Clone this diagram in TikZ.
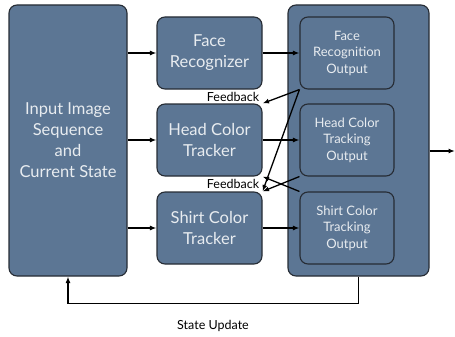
\documentclass[tikz,border=0pt]{standalone}
\usepackage{fontspec}
\setmainfont{Lato}
\usetikzlibrary{positioning}
\usetikzlibrary{arrows.meta}
\definecolor{boxblue}{RGB}{92,118,148}
\definecolor{boxline}{RGB}{38,44,52}
\definecolor{boxtext}{RGB}{232,236,240}

\begin{document}
\begin{tikzpicture}[x=1pt,y=-1pt,
        block/.style={draw=boxline, line width=1.1pt, fill=boxblue, rounded corners=8pt,
            text=boxtext, align=center, inner sep=0pt},
        bigtext/.style={font=\fontsize{16.5}{21}\selectfont},
        smalltext/.style={font=\fontsize{13}{16.5}\selectfont},
        flow/.style={-{Latex[length=6.5pt,width=5pt]}, line width=1.3pt},
        lbl/.style={font=\fontsize{12.5}{14}\selectfont}]

        \useasboundingbox (0,0) rectangle (455,337);

        % input and trackers
        \node[block, bigtext, minimum width=118pt, minimum height=271pt] (input) at (68,140.5)
            {Input Image\\Sequence\\and\\Current State};
        \node[block, bigtext, minimum width=105pt, minimum height=72pt] (face) at (209.5,53) {Face\\Recognizer};
        \node[block, bigtext, minimum width=105pt, minimum height=72pt] (head) at (209.5,140) {Head Color\\Tracker};
        \node[block, bigtext, minimum width=105pt, minimum height=72pt] (shirt) at (209.5,228) {Shirt Color\\Tracker};

        % outputs
        \node[block, minimum width=141pt, minimum height=271pt] (outputs) at (358.5,140.5) {};
        \node[block, smalltext, minimum width=94pt, minimum height=72pt] (faceout) at (347,53) {Face\\Recognition\\Output};
        \node[block, smalltext, minimum width=94pt, minimum height=72pt] (headout) at (347,140) {Head Color\\Tracking\\Output};
        \node[block, smalltext, minimum width=94pt, minimum height=72pt] (shirtout) at (347,228) {Shirt Color\\Tracking\\Output};

        \draw[flow] (input.east |- face.west) -- (face.west);
        \draw[flow] (input.east |- head.west) -- (head.west);
        \draw[flow] (input.east |- shirt.west) -- (shirt.west);

        \draw[flow] (face.east) -- (faceout.west);
        \draw[flow] (head.east) -- (headout.west);
        \draw[flow] (shirt.east) -- (shirtout.west);

        % feedback
        \draw[flow] (faceout.south west) -- (head.north east);
        \draw[flow] (faceout.south west) -- (shirt.north east);
        \draw[flow] (headout.south west) -- (shirt.north east);
        \draw[flow] (shirtout.north west) -- (head.south east);
        \node[lbl] (fb1) at (233,97) {Feedback};
        \node[lbl] (fb2) at (233,184) {Feedback};

        \coordinate (result) at (455,151);
        \draw[flow] (outputs.east |- result) -- (result);

        % state update
        \draw[flow] (outputs.south) -- ++(0,27) -| (input.south);
        \node[lbl] (update) at (213,326) {State Update};
\end{tikzpicture}
\end{document}
